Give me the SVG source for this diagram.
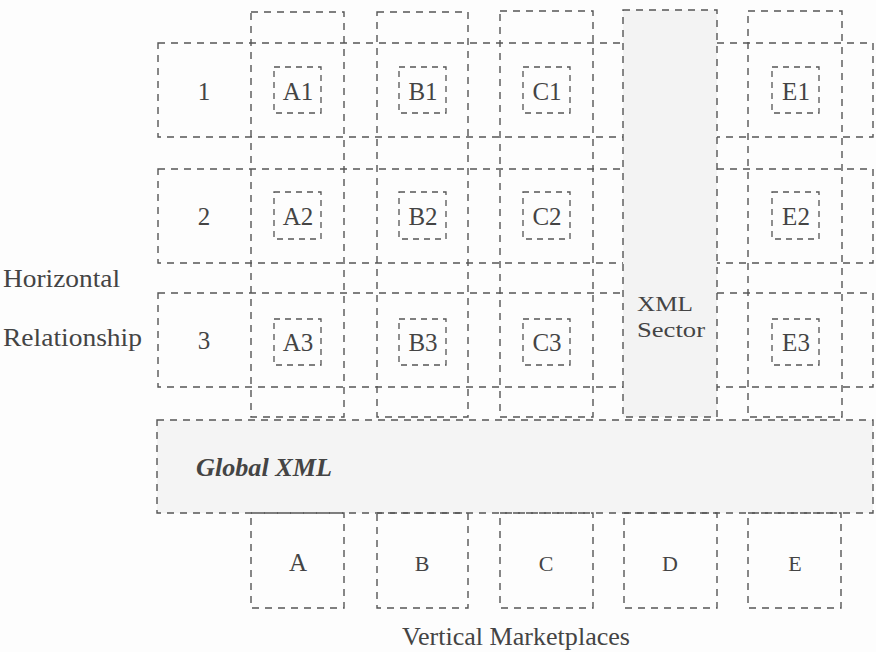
<svg xmlns="http://www.w3.org/2000/svg" width="876" height="652" viewBox="0 0 876 652">
<style>
.d{fill:none;stroke:#555;stroke-width:1.4;stroke-dasharray:7 6}
.s{fill:none;stroke:#555;stroke-width:1.3;stroke-dasharray:6 5}
.f{stroke:#555;stroke-width:1.4;stroke-dasharray:7 6}
text{font-family:"Liberation Serif","Times New Roman",serif;fill:#444}
.l{font-size:25px;text-anchor:middle}
.m{font-size:22px;text-anchor:middle}
</style>
<rect width="876" height="652" fill="#fdfdfd"/>
<g id="rows">
<g id="row1"><rect class="d" x="158" y="43" width="715" height="94"/><text class="l" x="204" y="100">1</text></g>
<g id="row2"><rect class="d" x="158" y="169" width="715" height="94"/><text class="l" x="204" y="225">2</text></g>
<g id="row3"><rect class="d" x="158" y="293" width="715" height="94"/><text class="l" x="204" y="349">3</text></g>
</g>
<g id="columns">
<g id="colA"><rect class="d" x="251" y="12" width="93" height="405"/></g>
<g id="colB"><rect class="d" x="377" y="12" width="91" height="405"/></g>
<g id="colC"><rect class="d" x="500" y="11" width="93" height="406"/></g>
<g id="colD"><rect class="f" x="623" y="10" width="94" height="407" fill="#f3f3f3"/>
<text style="font-size:22px" x="637" y="311" textLength="56" lengthAdjust="spacingAndGlyphs">XML</text>
<text style="font-size:22px" x="637" y="337" textLength="68" lengthAdjust="spacingAndGlyphs">Sector</text></g>
<g id="colE"><rect class="d" x="748" y="11" width="94" height="406"/></g>
</g>
<g id="cells">
<g id="A1"><rect class="s" x="274" y="67" width="47" height="46"/><text class="l" x="298" y="100">A1</text></g>
<g id="B1"><rect class="s" x="399" y="67" width="47" height="46"/><text class="l" x="423" y="100">B1</text></g>
<g id="C1"><rect class="s" x="523" y="67" width="47" height="46"/><text class="l" x="547" y="100">C1</text></g>
<g id="E1"><rect class="s" x="772" y="67" width="47" height="46"/><text class="l" x="796" y="100">E1</text></g>
<g id="A2"><rect class="s" x="274" y="192" width="47" height="47"/><text class="l" x="298" y="225">A2</text></g>
<g id="B2"><rect class="s" x="399" y="192" width="47" height="47"/><text class="l" x="423" y="225">B2</text></g>
<g id="C2"><rect class="s" x="523" y="192" width="47" height="47"/><text class="l" x="547" y="225">C2</text></g>
<g id="E2"><rect class="s" x="772" y="192" width="47" height="47"/><text class="l" x="796" y="225">E2</text></g>
<g id="A3"><rect class="s" x="274" y="319" width="47" height="46"/><text class="l" x="298" y="351">A3</text></g>
<g id="B3"><rect class="s" x="399" y="319" width="47" height="46"/><text class="l" x="423" y="351">B3</text></g>
<g id="C3"><rect class="s" x="523" y="319" width="47" height="46"/><text class="l" x="547" y="351">C3</text></g>
<g id="E3"><rect class="s" x="772" y="319" width="47" height="46"/><text class="l" x="796" y="351">E3</text></g>
</g>
<g id="global">
<rect class="f" x="157" y="420" width="716" height="93" fill="#f4f4f4"/>
<text x="196" y="476" style="font-size:26px;font-weight:bold;font-style:italic" textLength="136" lengthAdjust="spacingAndGlyphs">Global XML</text>
</g>
<g id="markets">
<g id="mA"><rect class="d" x="251" y="513" width="93" height="95"/><text class="l" x="298" y="571">A</text></g>
<g id="mB"><rect class="d" x="377" y="513" width="91" height="95"/><text class="m" x="422" y="571">B</text></g>
<g id="mC"><rect class="d" x="500" y="513" width="93" height="95"/><text class="m" x="546" y="571">C</text></g>
<g id="mD"><rect class="d" x="624" y="513" width="93" height="95"/><text class="m" x="670" y="571">D</text></g>
<g id="mE"><rect class="d" x="748" y="513" width="93" height="95"/><text class="m" x="795" y="571">E</text></g>
</g>
<g id="labels">
<text x="3" y="287" style="font-size:25px" textLength="117" lengthAdjust="spacingAndGlyphs">Horizontal</text>
<text x="3" y="346" style="font-size:25px" textLength="139" lengthAdjust="spacingAndGlyphs">Relationship</text>
<text x="402" y="645" style="font-size:25px" textLength="228" lengthAdjust="spacingAndGlyphs">Vertical Marketplaces</text>
</g>
<g id="connectors"/>
</svg>
